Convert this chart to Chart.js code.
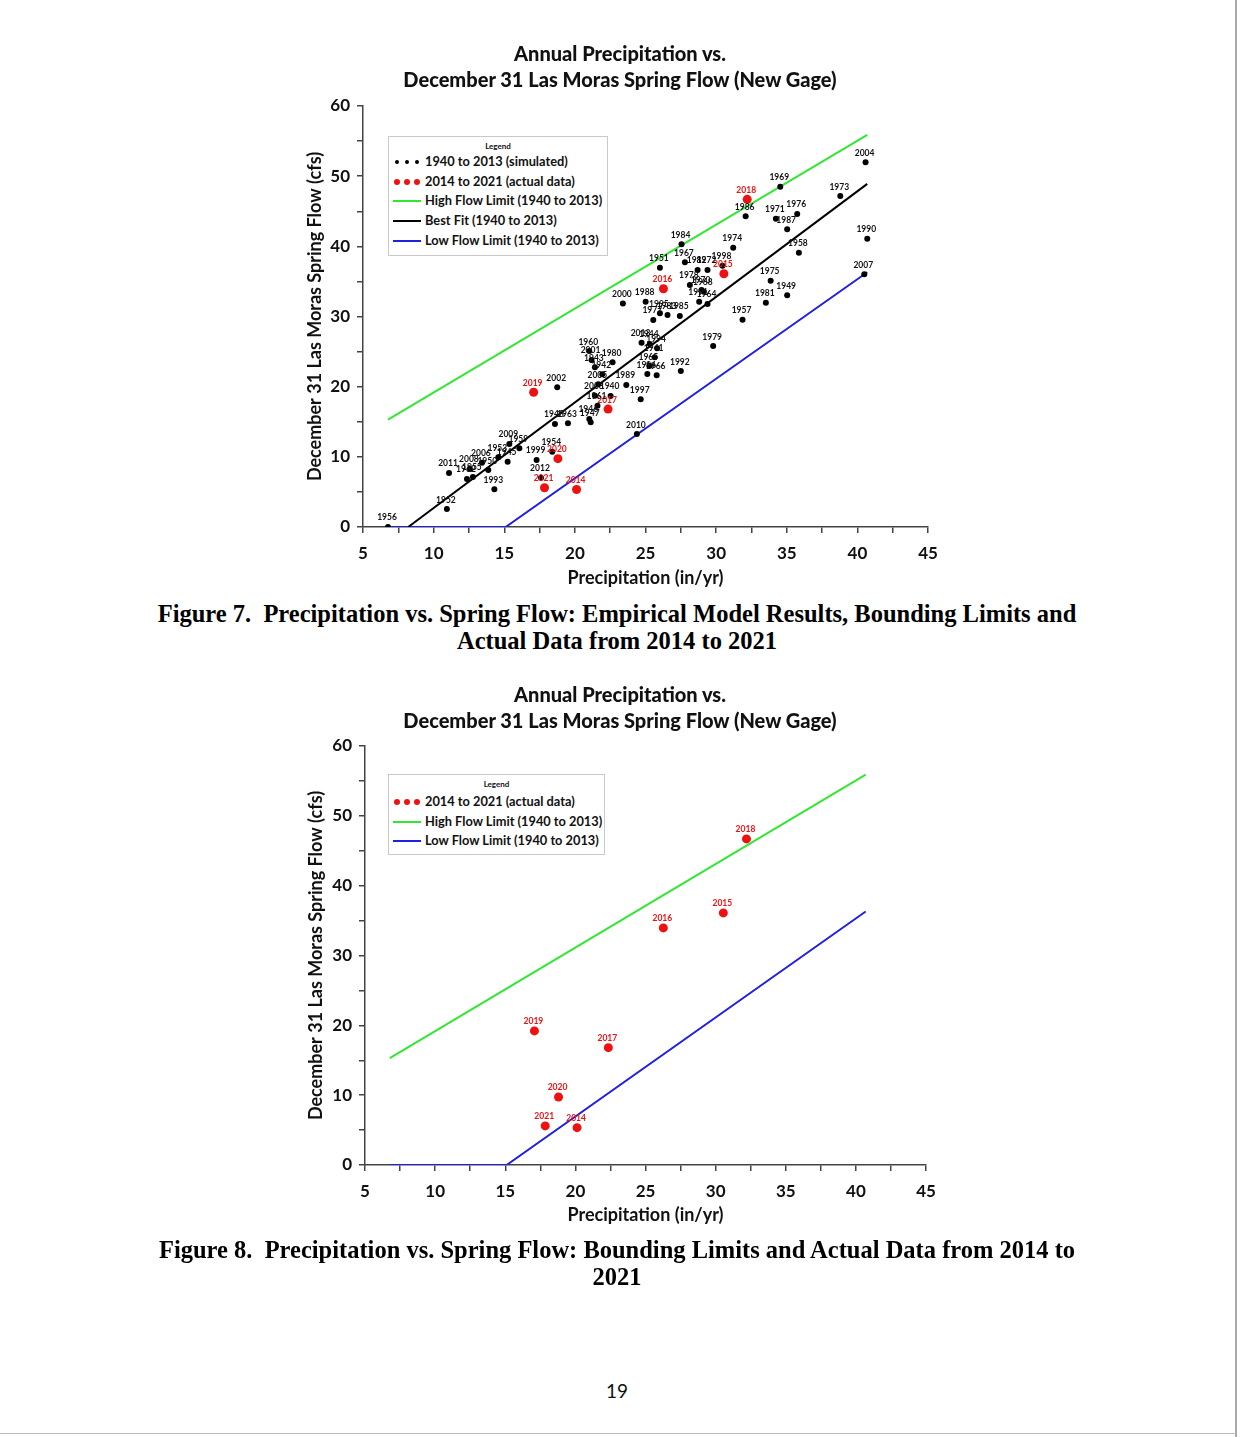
<!DOCTYPE html>
<html>
<head>
<meta charset="utf-8">
<title>Precipitation vs. Spring Flow</title>
<script src="https://cdn.jsdelivr.net/npm/chart.js@4.4.0/dist/chart.umd.min.js"></script>
<style>
  body { margin: 0; background: #fff; }
  #page { position: relative; width: 1249px; height: 1437px; overflow: hidden; background: #fff; font-family: Lato, sans-serif; }
  .chartbox { position: absolute; left: 290px; width: 660px; height: 570px; }
  .ctitle { position: absolute; left: 290px; width: 660px; text-align: center; font: 900 20px Lato, sans-serif; line-height: 26px; color: #111; z-index: 2; }
  .legend { position: absolute; background: #fff; border: 1px solid #c9c9c9; color: #111; z-index: 2; }
  .legend .head { position: absolute; left: 0; right: 0; top: 4px; text-align: center; font: bold 8px Lato, sans-serif; }
  .legend .row { position: absolute; left: 4px; height: 18px; line-height: 18px; font: bold 12.8px Lato, sans-serif; white-space: nowrap; }
  .legend .sym { position: absolute; left: 0; top: 0; width: 30px; height: 18px; }
  .legend .txt { position: absolute; left: 32px; top: 0; }
  .dot { position: absolute; border-radius: 50%; }
  .bar { position: absolute; left: 0; width: 28px; height: 2px; top: 8px; }
  .caption { position: absolute; left: 67px; width: 1100px; text-align: center; font: bold 24.5px "Liberation Serif", serif; line-height: 27px; color: #000; }
  .pagenum { position: absolute; left: 567px; width: 100px; top: 1379px; text-align: center; font: 19px Lato, sans-serif; color: #111; }
  .edge { position: absolute; left: 1235px; top: 0; width: 2px; height: 1437px; background: #a9a9a9; }
  .bottomline { position: absolute; left: 0; top: 1433px; width: 1236px; height: 1px; background: #bbb; }
</style>
</head>
<body>
<div id="page">
  <div class="ctitle" style="top:40px">Annual Precipitation vs.<br>December 31 Las Moras Spring Flow (New Gage)</div>
  <div class="chartbox" style="top:30px"><canvas id="fig7"></canvas></div>
  <div class="legend" style="left:388px; top:136px; width:218px; height:118px;">
    <div class="head">Legend</div>
    <div class="row" style="top:16px"><div class="sym">
      <span class="dot" style="left:2px;top:7px;width:4px;height:4px;background:#000"></span>
      <span class="dot" style="left:12px;top:7px;width:4px;height:4px;background:#000"></span>
      <span class="dot" style="left:22px;top:7px;width:4px;height:4px;background:#000"></span>
    </div><span class="txt">1940 to 2013 (simulated)</span></div>
    <div class="row" style="top:36px"><div class="sym">
      <span class="dot" style="left:1px;top:6px;width:6px;height:6px;background:#ee1111"></span>
      <span class="dot" style="left:11px;top:6px;width:6px;height:6px;background:#ee1111"></span>
      <span class="dot" style="left:21px;top:6px;width:6px;height:6px;background:#ee1111"></span>
    </div><span class="txt">2014 to 2021 (actual data)</span></div>
    <div class="row" style="top:55px"><div class="sym"><span class="bar" style="background:#33e633"></span></div><span class="txt">High Flow Limit (1940 to 2013)</span></div>
    <div class="row" style="top:75px"><div class="sym"><span class="bar" style="background:#000"></span></div><span class="txt">Best Fit (1940 to 2013)</span></div>
    <div class="row" style="top:95px"><div class="sym"><span class="bar" style="background:#2020e0"></span></div><span class="txt">Low Flow Limit (1940 to 2013)</span></div>
  </div>
  <div class="caption" style="top:600px">Figure 7.&nbsp; Precipitation vs. Spring Flow: Empirical Model Results, Bounding Limits and<br>Actual Data from 2014 to 2021</div>

  <div class="ctitle" style="top:681px">Annual Precipitation vs.<br>December 31 Las Moras Spring Flow (New Gage)</div>
  <div class="chartbox" style="top:671px"><canvas id="fig8"></canvas></div>
  <div class="legend" style="left:388px; top:774px; width:215px; height:79px;">
    <div class="head">Legend</div>
    <div class="row" style="top:18px"><div class="sym">
      <span class="dot" style="left:1px;top:6px;width:6px;height:6px;background:#ee1111"></span>
      <span class="dot" style="left:11px;top:6px;width:6px;height:6px;background:#ee1111"></span>
      <span class="dot" style="left:21px;top:6px;width:6px;height:6px;background:#ee1111"></span>
    </div><span class="txt">2014 to 2021 (actual data)</span></div>
    <div class="row" style="top:38px"><div class="sym"><span class="bar" style="background:#33e633"></span></div><span class="txt">High Flow Limit (1940 to 2013)</span></div>
    <div class="row" style="top:57px"><div class="sym"><span class="bar" style="background:#2020e0"></span></div><span class="txt">Low Flow Limit (1940 to 2013)</span></div>
  </div>
  <div class="caption" style="top:1236px">Figure 8.&nbsp; Precipitation vs. Spring Flow: Bounding Limits and Actual Data from 2014 to<br>2021</div>

  <div class="pagenum">19</div>
  <div class="edge"></div>
  <div class="bottomline"></div>
</div>

<script>
// Simulated years 1940-2013 (precipitation in/yr, Dec 31 flow cfs)
const simYears = [1956, 1952, 2011, 1962, 1955, 2008, 2006, 1950, 1953, 1945,
  2009, 1959, 1993, 1999, 1954, 2012, 2002, 1948, 1963, 1960,
  2001, 1943, 1980, 1942, 2005, 2003, 1940, 1961, 1946, 1947,
  1989, 1997, 2013, 1944, 1994, 1941, 1965, 1996, 1966, 1992,
  2010, 1979, 2000, 1988, 1995, 1983, 1985, 1977, 1951, 1984,
  1967, 1982, 1972, 1998, 1978, 1970, 1968, 1991, 1964, 1957,
  1974, 1986, 1969, 1971, 1976, 1987, 1958, 1973, 2004, 1990,
  2007, 1975, 1949, 1981];
const simPrecip = [6.77, 10.94, 11.09, 12.36, 12.78, 12.57, 13.42, 13.87, 14.58, 15.24,
  15.36, 16.07, 14.30, 17.29, 18.40, 17.60, 18.75, 18.59, 19.51, 21.02,
  21.18, 21.42, 22.67, 21.94, 21.66, 21.42, 22.53, 21.60, 21.02, 21.12,
  23.64, 24.66, 24.72, 25.30, 25.82, 25.65, 25.27, 25.13, 25.79, 27.50,
  24.39, 29.79, 23.40, 25.01, 26.02, 26.56, 27.43, 25.55, 26.02, 27.55,
  27.79, 28.69, 29.39, 30.45, 28.14, 28.97, 29.13, 28.80, 29.39, 31.87,
  31.21, 32.09, 34.54, 34.23, 35.74, 35.03, 35.86, 38.79, 40.58, 40.70,
  40.49, 33.86, 35.03, 33.52];
const simFlow = [0.0, 2.56, 7.70, 6.84, 7.13, 8.27, 9.16, 8.12, 9.93, 9.31,
  11.83, 11.22, 5.37, 9.55, 10.73, 7.03, 19.91, 14.68, 14.78, 25.08,
  23.80, 22.76, 23.47, 21.77, 20.34, 18.71, 18.67, 17.29, 15.39, 14.92,
  20.24, 18.20, 26.27, 26.08, 25.46, 24.18, 22.94, 21.80, 21.61, 22.23,
  13.25, 25.79, 31.85, 32.11, 30.45, 30.21, 30.07, 29.50, 36.96, 40.29,
  37.72, 36.63, 36.63, 37.24, 34.49, 33.78, 33.53, 32.11, 31.78, 29.55,
  39.81, 44.28, 48.50, 43.94, 44.61, 42.42, 39.10, 47.17, 51.97, 41.09,
  36.01, 35.10, 33.02, 31.97];

// Actual data 2014-2021
const actYears = [2014, 2015, 2016, 2017, 2018, 2019, 2020, 2021];
const actPrecip = [20.12, 30.55, 26.27, 22.35, 32.20, 17.08, 18.80, 17.85];
const actFlow = [5.35, 36.10, 33.95, 16.80, 46.70, 19.20, 9.74, 5.60];

// Limit lines and best fit (1940 to 2013)
const highLimitX = [6.77, 40.7];
const highLimitY = [15.3, 55.9];
const bestFitX = [8.2, 40.7];
const bestFitY = [0, 48.9];
const lowLimitX = [6.77, 15.1, 40.7];
const lowLimitY = [0, 0, 36.3];

// Tick labels
const xTickLabels = [5, 10, 15, 20, 25, 30, 35, 40, 45];
const yTickLabels = [0, 10, 20, 30, 40, 50, 60];

function toPoints(xs, ys) {
  return xs.map((x, i) => ({ x: x, y: ys[i] }));
}

// year labels above each point
const yearLabels = {
  id: 'yearLabels',
  afterDatasetsDraw(chart) {
    const ctx = chart.ctx;
    chart.data.datasets.forEach((ds, i) => {
      if (!ds.years) return;
      const meta = chart.getDatasetMeta(i);
      ctx.save();
      ctx.font = 'bold 8.5px Lato';
      ctx.fillStyle = ds.labelColor;
      ctx.textAlign = 'center';
      ctx.textBaseline = 'bottom';
      meta.data.forEach((pt, j) => {
        ctx.fillText(String(ds.years[j]), pt.x - 1, pt.y - 5);
      });
      ctx.restore();
    });
  }
};

function lineSet(label, xs, ys, color) {
  return {
    label: label,
    data: toPoints(xs, ys),
    showLine: true,
    borderColor: color,
    borderWidth: 2,
    pointRadius: 0,
    fill: false,
    tension: 0
  };
}

function makeOptions(p) {
  const tickFont = { family: 'Lato', size: 17, weight: 'bold' };
  const titleFont = { family: 'Lato', size: 18, weight: 'bold', lineHeight: 1.2 };
  return {
    responsive: true,
    maintainAspectRatio: false,
    animation: false,
    layout: { padding: { left: 0, right: p.right, top: p.top, bottom: 0 } },
    plugins: {
      legend: { display: false },
      tooltip: { enabled: false },
      title: { display: false }
    },
    scales: {
      x: {
        type: 'linear',
        min: 5,
        max: 45,
        afterFit: function(scale) { scale.height = p.xHeight; },
        border: { display: true, color: '#444', width: 1.5 },
        grid: { display: true, drawOnChartArea: false, drawTicks: true, tickLength: 6, color: '#444', lineWidth: 1.5 },
        ticks: {
          stepSize: 2.5,
          autoSkip: false,
          maxRotation: 0,
          padding: 10,
          color: '#111',
          font: tickFont,
          callback: function(v) { return xTickLabels.includes(v) ? String(v) : ''; }
        },
        title: { display: true, text: 'Precipitation (in/yr)', color: '#111', font: titleFont, padding: { top: 0, bottom: p.xTitlePad } }
      },
      y: {
        type: 'linear',
        min: 0,
        max: 60,
        afterFit: function(scale) { scale.width = p.yWidth; },
        border: { display: true, color: '#444', width: 1.5 },
        grid: { display: true, drawOnChartArea: false, drawTicks: true, tickLength: 6, color: '#444', lineWidth: 1.5 },
        ticks: {
          stepSize: 5,
          autoSkip: false,
          padding: 7,
          color: '#111',
          font: tickFont,
          callback: function(v) { return yTickLabels.includes(v) ? String(v) : ''; }
        },
        title: { display: true, text: 'December 31 Las Moras Spring Flow (cfs)', color: '#111', font: titleFont, padding: { top: p.yTitlePad, bottom: 0 } }
      }
    }
  };
}

// Figure 7
new Chart(document.getElementById('fig7').getContext('2d'), {
  type: 'scatter',
  data: {
    datasets: [
      {
        label: '2014 to 2021 (actual data)',
        data: toPoints(actPrecip, actFlow),
        years: actYears,
        labelColor: '#ee1111',
        pointRadius: 4.5,
        pointBackgroundColor: '#ee1111',
        pointBorderWidth: 0
      },
      {
        label: '1940 to 2013 (simulated)',
        data: toPoints(simPrecip, simFlow),
        years: simYears,
        labelColor: '#111',
        pointRadius: 3,
        pointBackgroundColor: '#000',
        pointBorderWidth: 0
      },
      lineSet('High Flow Limit (1940 to 2013)', highLimitX, highLimitY, '#33e633'),
      lineSet('Best Fit (1940 to 2013)', bestFitX, bestFitY, '#000'),
      lineSet('Low Flow Limit (1940 to 2013)', lowLimitX, lowLimitY, '#2020e0')
    ]
  },
  options: makeOptions({ top: 76, right: 22, xHeight: 73, xTitlePad: 11, yWidth: 73, yTitlePad: 14 }),
  plugins: [yearLabels]
});

// Figure 8
new Chart(document.getElementById('fig8').getContext('2d'), {
  type: 'scatter',
  data: {
    datasets: [
      {
        label: '2014 to 2021 (actual data)',
        data: toPoints(actPrecip, actFlow),
        years: actYears,
        labelColor: '#ee1111',
        pointRadius: 4.5,
        pointBackgroundColor: '#ee1111',
        pointBorderWidth: 0
      },
      lineSet('High Flow Limit (1940 to 2013)', highLimitX, highLimitY, '#33e633'),
      lineSet('Low Flow Limit (1940 to 2013)', lowLimitX, lowLimitY, '#2020e0')
    ]
  },
  options: makeOptions({ top: 75, right: 24, xHeight: 76, xTitlePad: 15, yWidth: 75, yTitlePad: 15 }),
  plugins: [yearLabels]
});
</script>
</body>
</html>
